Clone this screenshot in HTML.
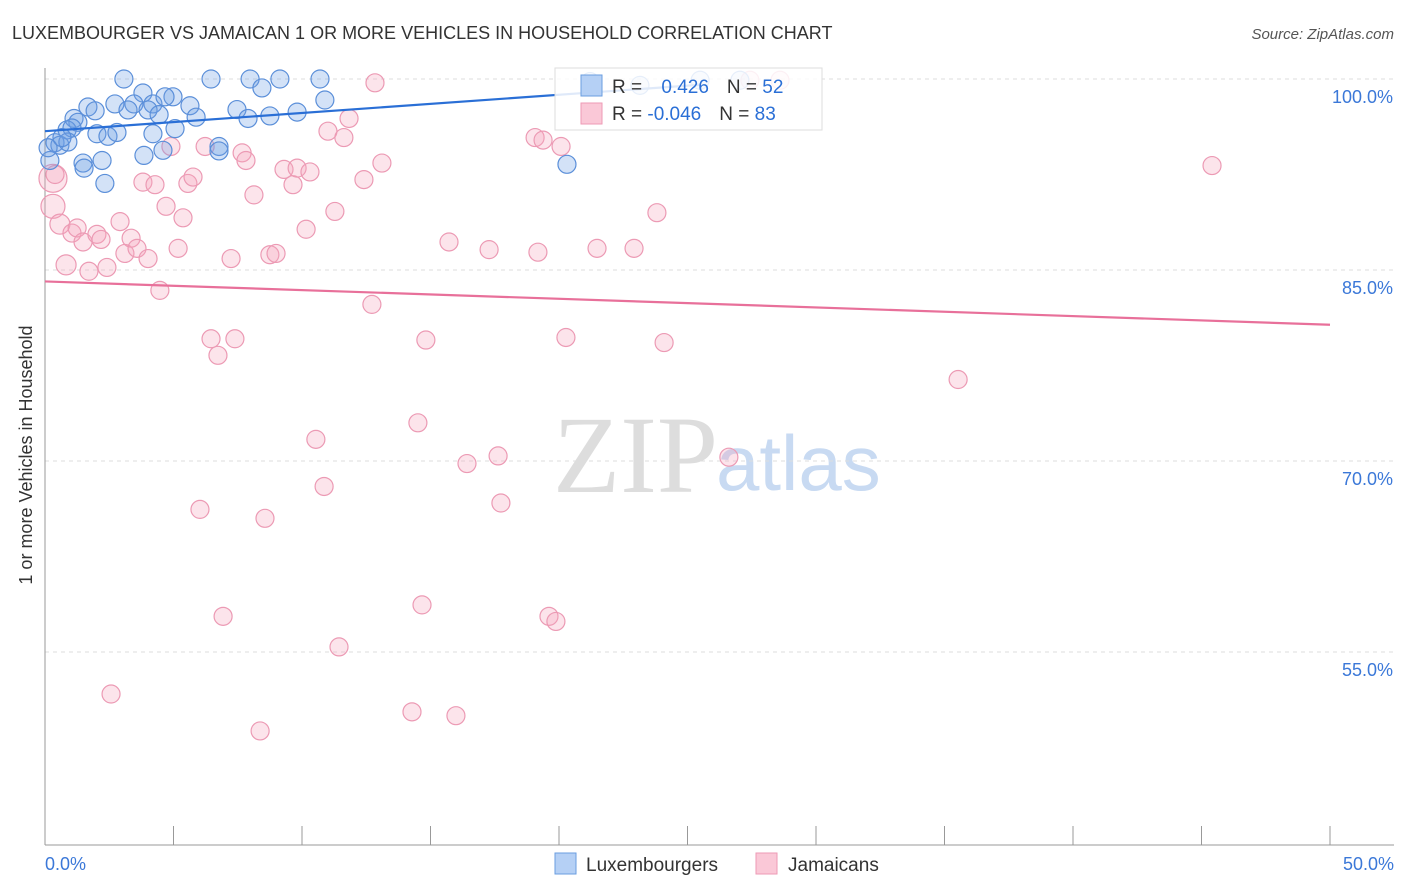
<!DOCTYPE html>
<html><head><meta charset="utf-8"><style>
body{margin:0;background:#fff;font-family:"Liberation Sans",sans-serif}
svg{display:block}
</style></head><body>
<svg id="c" width="1406" height="892">
<text x="12" y="39" font-size="18" fill="#333">LUXEMBOURGER VS JAMAICAN 1 OR MORE VEHICLES IN HOUSEHOLD CORRELATION CHART</text>
<text x="1394" y="39" font-size="15" fill="#555" font-style="italic" text-anchor="end">Source: ZipAtlas.com</text>
<text x="32" y="455" font-size="18" fill="#333" text-anchor="middle" transform="rotate(-90 32 455)">1 or more Vehicles in Household</text>
<text x="553" y="492" font-size="110" fill="#ddd" font-family="Liberation Serif,serif">ZIP</text>
<text x="716" y="490" font-size="78" fill="#c8daf2">atlas</text>
<g id="grid"></g><g id="pts"></g><g id="lines"></g>
<g>
<rect x="555" y="68" width="267" height="62" fill="#fff" fill-opacity="0.85" stroke="#ddd"/>
<rect x="581" y="75" width="21" height="21" fill="#b5d0f5" stroke="#6a9ee0"/>
<rect x="581" y="103" width="21" height="21" fill="#fac8d7" stroke="#ee9ab5"/>
<text x="612" y="93" font-size="19" fill="#333">R = <tspan fill="#2a6fd6" dx="14">0.426</tspan><tspan dx="18" fill="#333">N = </tspan><tspan fill="#2a6fd6">52</tspan></text>
<text x="612" y="120" font-size="19" fill="#333">R = <tspan fill="#2a6fd6">-0.046</tspan><tspan dx="18" fill="#333">N = </tspan><tspan fill="#2a6fd6">83</tspan></text>
</g>
<g>
<rect x="555" y="853" width="21" height="21" fill="#b5d0f5" stroke="#6a9ee0"/>
<text x="586" y="871" font-size="19" fill="#333">Luxembourgers</text>
<rect x="756" y="853" width="21" height="21" fill="#fac8d7" stroke="#ee9ab5"/>
<text x="788" y="871" font-size="19" fill="#333">Jamaicans</text>
</g>
</svg>
<script>
const blueX=[3.07,6.46,7.98,9.14,10.7,3.81,8.44,10.89,1.67,1.95,2.72,3.46,4.2,4.98,4.67,5.64,7.47,3.23,4.01,4.44,5.88,7.9,8.75,9.81,1.13,1.28,0.86,1.05,2.02,2.45,2.8,4.2,5.06,0.39,0.58,0.89,0.19,1.48,2.22,1.52,2.33,3.85,4.59,6.77,6.77,20.31,25.49,27.04,23.15,21.21,0.12,0.66];
const blueY=[100,100,100,100,100,98.9,99.3,98.35,97.8,97.5,98.04,98.04,98.04,98.6,98.6,97.9,97.6,97.57,97.57,97.2,97.0,96.9,97.1,97.4,96.9,96.6,96.0,96.15,95.7,95.5,95.8,95.7,96.1,95.0,94.8,95.05,93.6,93.4,93.6,93.0,91.8,94.0,94.4,94.7,94.35,93.3,99.9,99.9,99.5,99.8,94.6,95.4];
const pinkX=[12.84,28.6,27.43,0.31,0.31,0.58,0.82,1.71,2.41,1.05,1.25,1.48,2.02,2.18,2.92,3.11,3.35,3.58,4.01,3.81,4.28,4.71,4.9,4.47,5.18,5.37,5.56,5.76,6.23,6.46,6.73,7.24,7.39,7.67,7.82,8.13,8.75,8.99,9.3,9.65,9.81,10.31,10.16,11.01,11.28,11.63,11.83,12.41,12.72,13.11,14.82,14.51,10.54,10.86,6.03,8.56,6.93,11.44,2.57,8.37,14.28,15.99,14.67,19.61,19.88,16.42,17.63,17.74,15.72,17.28,19.18,19.07,19.38,20.08,20.27,21.48,22.92,23.81,24.09,26.61,35.53,45.41,0.39];
const pinkY=[99.7,99.9,99.9,92.2,90.0,88.6,85.4,84.9,85.2,87.9,88.3,87.2,87.8,87.4,88.8,86.3,87.5,86.7,85.9,91.9,91.7,90.0,94.7,83.4,86.7,89.1,91.8,92.3,94.7,79.6,78.3,85.9,79.6,94.2,93.6,90.9,86.2,86.3,92.9,91.7,93.0,92.7,88.2,95.9,89.6,95.4,96.9,92.1,82.3,93.4,79.5,73.0,71.7,68.0,66.2,65.5,57.8,55.4,51.7,48.8,50.3,50.0,58.7,57.8,57.4,69.8,70.4,66.7,87.2,86.6,86.4,95.4,95.2,94.7,79.7,86.7,86.7,89.5,79.3,70.3,76.4,93.2,92.5];
const pinkR=[9,9,9,14,12,10,10,9,9,9,9,9,9,9,9,9,9,9,9,9,9,9,9,9,9,9,9,9,9,9,9,9,9,9,9,9,9,9,9,9,9,9,9,9,9,9,9,9,9,9,9,9,9,9,9,9,9,9,9,9,9,9,9,9,9,9,9,9,9,9,9,9,9,9,9,9,9,9,9,9,9,9,9];
const blueTrend=[95.9,99.55];
const blueTrendX=[0,25.5];
const pinkTrend=[84.1,80.7];
const pinkTrendX=[0,50];
const yTicks=[100,85,70,55];
const yTickLabels=["100.0%","85.0%","70.0%","55.0%"];
const xs=v=>45+v*25.7, ys=v=>79+(100-v)*191/15;
const NS="http://www.w3.org/2000/svg";
function mk(t,a,p){const e=document.createElementNS(NS,t);for(const k in a)e.setAttribute(k,a[k]);p.appendChild(e);return e;}
const g=document.getElementById('grid');
yTicks.forEach((t,i)=>{
 const l=mk('line',{x1:45,x2:1394,y1:ys(t),y2:ys(t),stroke:'#ddd','stroke-dasharray':'4,4'},g);
 
 
 const tx=mk('text',{x:1393,y:ys(t)+24,'font-size':18,fill:'#3b78d8','text-anchor':'end'},g);
 tx.textContent=yTickLabels[i];
 
 
});
mk('line',{x1:45,x2:45,y1:68,y2:845,stroke:'#999'},g);
mk('line',{x1:45,x2:1394,y1:845,y2:845,stroke:'#999'},g);
for(let i=0;i<=10;i++){mk('line',{x1:xs(i*5),x2:xs(i*5),y1:826,y2:845,stroke:'#999'},g);}
const x0=mk('text',{x:45,y:870,'font-size':18,fill:'#3b78d8'},g);x0.textContent='0.0%';


const x1=mk('text',{x:1394,y:870,'font-size':18,fill:'#3b78d8','text-anchor':'end'},g);x1.textContent='50.0%';


const p=document.getElementById('pts');
pinkX.forEach((v,i)=>{const c=mk('circle',{cx:xs(v),cy:ys(pinkY[i]),r:pinkR[i],fill:'rgba(245,165,190,0.3)',stroke:'#ec9ab4','stroke-width':1.2},p);
 
 });
blueX.forEach((v,i)=>{const c=mk('circle',{cx:xs(v),cy:ys(blueY[i]),r:9,fill:'rgba(110,160,230,0.3)',stroke:'#5b8fd9','stroke-width':1.2},p);
 
 });
const L=document.getElementById('lines');
const bl=mk('line',{x1:xs(blueTrendX[0]),y1:ys(blueTrend[0]),x2:xs(blueTrendX[1]),y2:ys(blueTrend[1]),stroke:'#2a6fd6','stroke-width':2.2},L);


const pl=mk('line',{x1:xs(pinkTrendX[0]),y1:ys(pinkTrend[0]),x2:xs(pinkTrendX[1]),y2:ys(pinkTrend[1]),stroke:'#e8709a','stroke-width':2.2},L);


</script>
</body></html>
